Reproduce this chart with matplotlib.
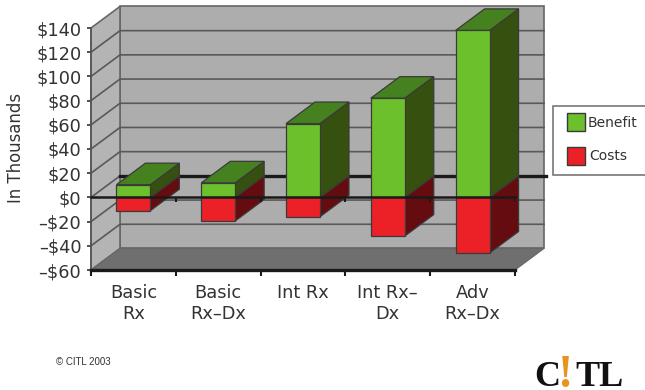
import matplotlib
matplotlib.use("Agg")
import matplotlib.pyplot as plt
from matplotlib.patches import Polygon, Rectangle

categories = ["Basic\nRx", "Basic\nRx–Dx", "Int Rx", "Int Rx–\nDx", "Adv\nRx–Dx"]
series_names = ["Benefit", "Costs"]
benefit = [10.5, 12, 61, 82, 138]
costs = [-11, -19.5, -16, -32, -46]
y_ticks = [-60, -40, -20, 0, 20, 40, 60, 80, 100, 120, 140]
y_labels = ["–$60", "–$40", "–$20", "$0", "$20", "$40", "$60", "$80", "$100", "$120", "$140"]

W, H = 645, 390
DX, DY = 0.342, 17.8     # depth of the 3D box in data units
BAR_W = 0.40
TEXT = "#333333"
EDGE = "#3a3a3a"

GREEN, GREEN_TOP, GREEN_SIDE = "#6cc02c", "#45821f", "#36500f"
RED, RED_SIDE = "#ec2027", "#650c10"

fig = plt.figure(figsize=(W / 100, H / 100), dpi=100)
ax = fig.add_axes([91 / W, (H - 270) / H, 424 / W, 242 / H])
ax.set_xlim(0, 5)
ax.set_ylim(-60, 140)
ax.patch.set_visible(False)
for s in ["top", "right"]:
    ax.spines[s].set_visible(False)


def poly(pts, color, z, edge=EDGE, lw=0.9):
    ax.add_patch(Polygon(pts, closed=True, facecolor=color, edgecolor=edge,
                         linewidth=lw, zorder=z, clip_on=False))


def fig_rect(x, y, w, h, color, edge, lw=1.0):
    # x, y are pixels from the top-left corner of the figure
    fig.add_artist(Rectangle((x / W, (H - y - h) / H), w / W, h / H, transform=fig.transFigure,
                             facecolor=color, edgecolor=edge, linewidth=lw))


def fig_text(x, y, s, **kw):
    fig.text(x / W, (H - y) / H, s, **kw)


# walls and floor
y0, y1 = y_ticks[0], y_ticks[-1]
poly([(DX, y0 + DY), (5 + DX, y0 + DY), (5 + DX, y1 + DY), (DX, y1 + DY)], "#adadad", 1, "#666666", 1.2)
poly([(0, y0), (DX, y0 + DY), (DX, y1 + DY), (0, y1)], "#b4b4b4", 1, "#666666", 1.2)
poly([(0, y0), (5, y0), (5 + DX, y0 + DY), (DX, y0 + DY)], "#6f6f6f", 2, "#666666", 0.8)

# gridlines on the back and left walls
for v in y_ticks[1:-1]:
    ax.plot([0, DX, 5 + DX], [v, v + DY, v + DY], color="#595959", lw=1.2, zorder=1.5, clip_on=False)
ax.plot([DX, 5 + DX + 0.02], [DY, DY], color="#1a1a1a", lw=2.4, zorder=1.6, clip_on=False)

# bars, left to right so the nearer faces overlap properly
for i, (b, c) in enumerate(zip(benefit, costs)):
    x0 = i + 0.5 - BAR_W / 2
    x1 = x0 + BAR_W
    z = 3 + i * 0.1
    poly([(x1, 0), (x1 + DX, DY), (x1 + DX, c + DY), (x1, c)], RED_SIDE, z)
    poly([(x1, 0), (x1 + DX, DY), (x1 + DX, b + DY), (x1, b)], GREEN_SIDE, z)
    poly([(x0, b), (x1, b), (x1 + DX, b + DY), (x0 + DX, b + DY)], GREEN_TOP, z)
    poly([(x0, 0), (x1, 0), (x1, c), (x0, c)], RED, z)
    poly([(x0, 0), (x1, 0), (x1, b), (x0, b)], GREEN, z)

# zero line with its own small ticks
ax.plot([0, 5], [0, 0], color="#1a1a1a", lw=1.8, zorder=6, clip_on=False)
ax.vlines(range(1, 6), -4, 0, color="#1a1a1a", lw=1.5, zorder=6)

# axes
ax.spines["left"].set_color("#555555")
ax.spines["left"].set_linewidth(1.2)
ax.spines["left"].set_zorder(5)
ax.spines["bottom"].set_color("#1a1a1a")
ax.spines["bottom"].set_linewidth(2.4)
ax.spines["bottom"].set_zorder(5)

ax.set_yticks(y_ticks)
ax.set_yticklabels(y_labels, fontsize=12.8, color=TEXT)
ax.tick_params(axis="y", length=3, width=1.2, color="#333333", pad=4)

ax.set_xticks(range(6))
ax.set_xticklabels([])
ax.tick_params(axis="x", which="major", length=4, width=1.5, color="#1a1a1a")
ax.set_xticks([i + 0.5 for i in range(5)], minor=True)
ax.set_xticklabels(categories, minor=True, fontsize=12.8, color=TEXT, linespacing=1.25)
ax.tick_params(axis="x", which="minor", length=0, pad=10)

ax.set_ylabel("In Thousands", fontsize=11.9, color=TEXT)
ax.yaxis.set_label_coords(25 / W, (H - 148) / H, transform=fig.transFigure)

# legend box runs off the right edge of the figure
fig_rect(553, 106, 100, 69, "white", "#777777", 1.2)
fig_rect(567, 113, 18, 18, GREEN, EDGE)
fig_rect(567, 147, 18, 18, RED, EDGE)
fig_text(588, 123, series_names[0], fontsize=10, color=TEXT, va="center")
fig_text(589, 156, series_names[1], fontsize=10, color=TEXT, va="center")

# footer
fig_text(56, 362, "© CITL 2003", fontsize=7, family="Liberation Sans", color=TEXT, va="center")
logo = {"family": "Liberation Serif", "weight": "bold", "va": "baseline"}
fig_text(534, 386, "C", color="#111111", fontsize=26, **logo)
fig_text(565, 387, "!", color="#e8951f", fontsize=33, ha="center", **logo)
fig_text(575, 386, "TL", color="#111111", fontsize=26, **logo)

fig.savefig("out.png", dpi=100)
